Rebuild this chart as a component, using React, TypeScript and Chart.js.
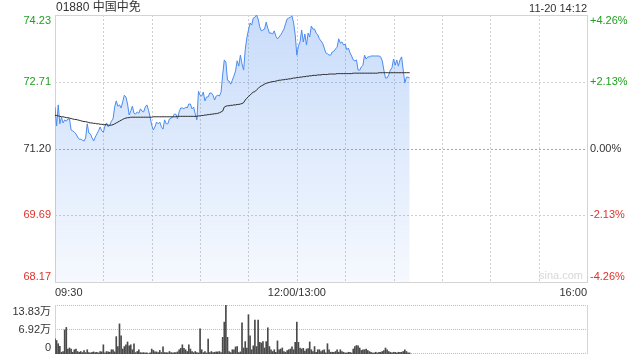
import React, { useEffect, useRef } from 'react';
import { Chart, registerables } from 'chart.js';

Chart.register(...registerables);

const FONT = '"Liberation Sans", Arial, "Noto Sans CJK SC", sans-serif';
const GREEN = '#1f9f1f';
const RED = '#e0302b';
const DARK = '#333333';

const TITLE = '01880 中国中免';
const STAMP = '11-20 14:12';

const PRICE_MIN = 68.17;
const PRICE_MAX = 74.23;
const PRICE_TICK_VALUES = [74.23, 72.71, 71.2, 69.69, 68.17];
const PRICE_TICK_LABELS = ['74.23', '72.71', '71.20', '69.69', '68.17'];
const PCT_TICK_LABELS = ['+4.26%', '+2.13%', '0.00%', '-2.13%', '-4.26%'];
const TICK_COLORS = [GREEN, GREEN, DARK, RED, RED];

const TOTAL_MINUTES = 330;
const GRID_MINUTES = [30, 60, 90, 120, 150, 180, 210, 240, 270, 300];
const TIME_LABELS = ['09:30', '12:00/13:00', '16:00'];
const TIME_POSITIONS = [0, 150, 330];

const VOL_MAX = 13.83;
const VOL_TICK_VALUES = [13.83, 6.92, 0];
const VOL_TICK_LABELS = ['13.83万', '6.92万', '0'];

// minute-by-minute price (09:30 ...)
const PRICE = [
  72.14, 71.71, 72.19, 71.76, 71.91, 71.78, 71.85, 71.82, 71.87, 71.87,
  71.62, 71.6, 71.57, 71.53, 71.46, 71.41, 71.41, 71.39, 71.37, 71.44,
  71.76, 71.55, 71.53, 71.44, 71.37, 71.46, 71.53, 71.6, 71.69, 71.6,
  71.57, 71.71, 71.78, 71.69, 71.73, 71.82, 71.87, 72.14, 72.28, 72.16,
  72.19, 72.12, 72.26, 72.41, 72.37, 72.21, 71.96, 72.05, 72.16, 72.0,
  71.98, 72.03, 72.0, 72.1, 72.05, 72.03, 72.14, 72.19, 72.07, 71.91,
  71.73, 71.62, 71.69, 71.8, 71.76, 71.8, 71.69, 71.64, 71.85, 71.76,
  71.76, 71.87, 71.89, 71.91, 71.98, 71.98, 71.87, 72.03, 72.12, 72.12,
  72.1, 72.14, 72.12, 72.21, 72.21, 72.1, 72.14, 71.98, 71.85, 72.5,
  72.41, 72.39, 72.48, 72.28, 72.37, 72.37, 72.46, 72.46, 72.41, 72.3,
  72.39, 72.41, 72.39, 72.48, 72.87, 73.21, 73.16, 72.75, 72.73, 72.66,
  72.75, 72.85, 72.96, 73.19, 73.07, 73.32, 73.12, 72.98, 73.44, 73.71,
  73.89, 74.05, 74.0, 74.16, 74.18, 74.23, 74.14, 73.96, 73.87, 73.89,
  73.91, 74.07, 73.93, 73.82, 73.82, 73.8, 73.87, 73.75, 73.69, 73.73,
  73.78, 73.84, 73.91, 74.03, 74.14, 74.16, 74.18, 74.21, 74.05, 73.78,
  73.32, 73.53, 73.62, 73.89, 73.62, 73.8, 73.55, 73.82, 73.73, 73.98,
  73.91, 73.91, 73.82, 73.78, 73.69, 73.64, 73.59, 73.48, 73.37, 73.35,
  73.32, 73.32, 73.39, 73.41, 73.46, 73.5, 73.69, 73.59, 73.62, 73.55,
  73.57, 73.44, 73.48, 73.37, 73.3, 73.21, 73.19, 73.21, 72.98, 72.98,
  73.05, 73.09, 73.32, 73.23, 73.28, 73.28, 73.3, 73.3, 73.3, 73.3,
  73.3, 73.3, 73.28, 73.19, 72.98, 72.8, 72.8, 72.87, 72.98, 73.03,
  73.23, 73.09, 73.21, 73.07, 73.21, 73.28, 72.98, 72.69, 72.82, 72.82,
  72.8,
];

// average price line
const AVG = [
  71.95, 71.95, 71.94, 71.93, 71.92, 71.92, 71.91, 71.9, 71.9, 71.89,
  71.88, 71.87, 71.86, 71.86, 71.85, 71.84, 71.83, 71.82, 71.81, 71.81,
  71.8, 71.79, 71.78, 71.78, 71.77, 71.77, 71.76, 71.76, 71.75, 71.75,
  71.74, 71.74, 71.74, 71.73, 71.73, 71.73, 71.74, 71.76, 71.78, 71.8,
  71.82, 71.84, 71.86, 71.88, 71.89, 71.9, 71.9, 71.91, 71.91, 71.91,
  71.91, 71.91, 71.91, 71.91, 71.91, 71.91, 71.91, 71.91, 71.91, 71.91,
  71.91, 71.92, 71.92, 71.92, 71.92, 71.92, 71.92, 71.92, 71.92, 71.92,
  71.92, 71.92, 71.92, 71.92, 71.92, 71.92, 71.93, 71.93, 71.93, 71.93,
  71.93, 71.93, 71.93, 71.93, 71.93, 71.93, 71.93, 71.93, 71.93, 71.94,
  71.94, 71.95, 71.95, 71.96, 71.96, 71.97, 71.97, 71.98, 71.98, 71.99,
  71.99, 72.0, 72.01, 72.03, 72.05, 72.14, 72.16, 72.17, 72.17, 72.18,
  72.18, 72.19, 72.19, 72.2, 72.2, 72.21, 72.22, 72.24, 72.3, 72.34,
  72.38, 72.41, 72.45, 72.48, 72.49, 72.53, 72.56, 72.6, 72.62, 72.64,
  72.66, 72.68, 72.69, 72.7, 72.71, 72.72, 72.72, 72.73, 72.74, 72.75,
  72.75, 72.76, 72.76, 72.77, 72.77, 72.78, 72.78, 72.79, 72.8, 72.8,
  72.81, 72.81, 72.82, 72.82, 72.83, 72.83, 72.84, 72.84, 72.85, 72.85,
  72.86, 72.86, 72.86, 72.87, 72.87, 72.87, 72.88, 72.88, 72.88, 72.88,
  72.89, 72.89, 72.89, 72.89, 72.89, 72.9, 72.9, 72.9, 72.9, 72.9,
  72.9, 72.9, 72.9, 72.9, 72.9, 72.91, 72.91, 72.91, 72.91, 72.91,
  72.91, 72.91, 72.91, 72.91, 72.91, 72.91, 72.91, 72.91, 72.91, 72.91,
  72.91, 72.92, 72.92, 72.92, 72.92, 72.92, 72.92, 72.92, 72.92, 72.92,
  72.92, 72.92, 72.92, 72.92, 72.92, 72.92, 72.92, 72.92, 72.92, 72.92,
  72.92,
];

// volume per minute, in 万 shares
const VOLUME = [
  4.3, 3.8, 2.9, 2.2, 0.5, 0.7, 6.8, 7.5, 1.4, 1.7,
  1.4, 0.5, 1.2, 1.4, 0.7, 0.5, 0.7, 0.4, 1.0, 0.4,
  1.2, 0.4, 0.3, 0.5, 0.6, 0.4, 0.5, 0.3, 0.7, 0.6,
  2.6, 0.3, 0.7, 0.6, 0.5, 1.2, 1.2, 0.6, 4.9, 2.1,
  8.5, 5.1, 1.4, 2.1, 2.6, 3.4, 2.3, 2.6, 1.2, 2.9,
  0.4, 0.7, 1.2, 0.4, 0.3, 0.4, 0.3, 0.3, 0.1, 0.3,
  1.4, 1.0, 0.6, 0.6, 0.4, 1.0, 0.4, 2.0, 0.4, 0.4,
  0.3, 0.7, 0.4, 0.3, 0.4, 0.4, 0.6, 1.2, 1.6, 2.6,
  1.6, 1.2, 0.7, 2.6, 1.4, 0.7, 0.4, 0.7, 0.4, 0.3,
  7.1, 1.2, 0.4, 0.7, 0.3, 4.2, 0.4, 0.7, 0.4, 0.5,
  0.6, 0.6, 0.7, 0.4, 4.7, 9.0, 13.83, 4.7, 0.7, 0.4,
  1.2, 1.2, 2.0, 2.1, 0.4, 0.6, 8.8, 1.7, 3.5, 1.7,
  11.1, 5.1, 1.2, 2.3, 9.6, 2.1, 9.6, 3.3, 3.1, 3.5,
  1.7, 3.5, 7.4, 2.1, 1.2, 0.7, 1.2, 0.5, 3.7, 1.2,
  1.4, 1.7, 0.7, 0.5, 1.0, 1.2, 1.4, 2.0, 1.2, 3.3,
  9.0, 3.3, 1.7, 1.4, 1.6, 0.8, 1.4, 1.5, 3.4, 1.2,
  0.7, 2.1, 0.5, 1.2, 1.2, 0.7, 1.0, 1.2, 0.3, 2.9,
  1.2, 0.5, 0.5, 0.5, 0.7, 1.2, 0.5, 1.2, 0.7, 0.5,
  0.3, 0.3, 0.5, 0.5, 0.3, 1.4, 2.1, 2.4, 2.3, 1.7,
  1.0, 1.2, 1.2, 1.4, 1.0, 0.7, 0.5, 0.3, 0.3, 0.5,
  0.3, 0.5, 0.5, 0.7, 1.0, 1.7, 1.2, 0.7, 0.5, 0.3,
  0.5, 0.5, 0.3, 0.5, 0.5, 0.5, 0.7, 1.2, 0.7, 0.3,
  0.3,
];

function hLine(ctx: CanvasRenderingContext2D, x1: number, x2: number, y: number) {
  const yy = Math.round(y) + 0.5;
  ctx.beginPath();
  ctx.moveTo(x1, yy);
  ctx.lineTo(x2, yy);
  ctx.stroke();
}
function vLine(ctx: CanvasRenderingContext2D, x: number, y1: number, y2: number) {
  const xx = Math.round(x) + 0.5;
  ctx.beginPath();
  ctx.moveTo(xx, y1);
  ctx.lineTo(xx, y2);
  ctx.stroke();
}

const mainDecor = {
  id: 'mainDecor',
  beforeDatasetsDraw(chart: any) {
    const { ctx, chartArea: a, scales } = chart;
    const x = scales.x;
    const y = scales.y;
    ctx.save();
    ctx.lineWidth = 1;
    ctx.setLineDash([2, 2]);
    ctx.strokeStyle = '#cfcfcf';
    GRID_MINUTES.forEach((m) => vLine(ctx, x.getPixelForValue(m), a.top, a.bottom));
    PRICE_TICK_VALUES.forEach((v, i) => {
      if (i === 0 || i === PRICE_TICK_VALUES.length - 1) return;
      ctx.strokeStyle = i === 2 ? '#a8a8a8' : '#cfcfcf';
      hLine(ctx, a.left, a.right, y.getPixelForValue(v));
    });
    ctx.setLineDash([]);
    ctx.strokeStyle = '#d4d4d4';
    ctx.strokeRect(Math.round(a.left) + 0.5, Math.round(a.top) + 0.5, Math.round(a.right - a.left), Math.round(a.bottom - a.top));
    ctx.restore();
  },
  afterDraw(chart: any) {
    const { ctx, chartArea: a, scales } = chart;
    const x = scales.x;
    const y = scales.y;
    ctx.save();
    // header
    ctx.fillStyle = DARK;
    ctx.font = `12px ${FONT}`;
    ctx.textAlign = 'left';
    ctx.textBaseline = 'middle';
    ctx.fillText(TITLE, a.left + 1, 8);
    ctx.font = `11px ${FONT}`;
    ctx.textAlign = 'right';
    ctx.fillText(STAMP, a.right, 9);
    // price / pct labels
    ctx.font = `11px ${FONT}`;
    PRICE_TICK_VALUES.forEach((v, i) => {
      let py = y.getPixelForValue(v);
      let base: CanvasTextBaseline = 'middle';
      if (i === 0) { base = 'top'; py += 0; }
      if (i === PRICE_TICK_VALUES.length - 1) { base = 'bottom'; }
      ctx.textBaseline = base;
      ctx.fillStyle = TICK_COLORS[i];
      ctx.textAlign = 'right';
      ctx.fillText(PRICE_TICK_LABELS[i], a.left - 4, py);
      ctx.textAlign = 'left';
      ctx.fillText(PCT_TICK_LABELS[i], a.right + 3, py);
    });
    // time labels
    ctx.fillStyle = DARK;
    ctx.textBaseline = 'middle';
    TIME_LABELS.forEach((t, i) => {
      const px = x.getPixelForValue(TIME_POSITIONS[i]);
      ctx.textAlign = i === 0 ? 'left' : i === TIME_LABELS.length - 1 ? 'right' : 'center';
      ctx.fillText(t, px, a.bottom + 11);
    });
    // watermark
    ctx.fillStyle = '#d8d8d8';
    ctx.textAlign = 'right';
    ctx.textBaseline = 'bottom';
    ctx.fillText('sina.com', a.right - 4, a.bottom - 1);
    ctx.restore();
  },
};

const volDecor = {
  id: 'volDecor',
  beforeDatasetsDraw(chart: any) {
    const { ctx, chartArea: a, scales } = chart;
    const y = scales.y;
    ctx.save();
    ctx.lineWidth = 1;
    ctx.setLineDash([1, 1]);
    ctx.strokeStyle = '#bdbdbd';
    VOL_TICK_VALUES.forEach((v) => hLine(ctx, a.left, a.right, Math.min(y.getPixelForValue(v), a.bottom - 1)));
    ctx.setLineDash([]);
    ctx.strokeStyle = '#d4d4d4';
    vLine(ctx, a.left, a.top, a.bottom);
    vLine(ctx, a.right, a.top, a.bottom);
    ctx.restore();
  },
  afterDraw(chart: any) {
    const { ctx, chartArea: a, scales } = chart;
    const y = scales.y;
    ctx.save();
    ctx.fillStyle = DARK;
    ctx.font = `11px ${FONT}`;
    ctx.textAlign = 'right';
    VOL_TICK_VALUES.forEach((v, i) => {
      const py = y.getPixelForValue(v);
      ctx.textBaseline = i === 0 ? 'top' : i === VOL_TICK_VALUES.length - 1 ? 'bottom' : 'middle';
      ctx.fillText(VOL_TICK_LABELS[i], a.left - 4, i === 0 ? py + 1 : i === 2 ? py - 1 : py);
    });
    ctx.restore();
  },
};

export default function App() {
  const mainRef = useRef<HTMLCanvasElement>(null);
  const volRef = useRef<HTMLCanvasElement>(null);

  useEffect(() => {
    const priceData = PRICE.map((v, i) => ({ x: i, y: v }));
    const avgData = AVG.map((v, i) => ({ x: i, y: v }));
    const volData = VOLUME.map((v, i) => ({ x: i, y: v }));

    const main = new Chart(mainRef.current!, {
      type: 'line',
      data: {
        datasets: [
          {
            label: 'avg',
            data: avgData,
            borderColor: '#2a2a2a',
            borderWidth: 1,
            pointRadius: 0,
            fill: false,
            order: 0,
          },
          {
            label: 'price',
            data: priceData,
            borderColor: '#4a8bf0',
            borderWidth: 1,
            pointRadius: 0,
            fill: 'start',
            order: 1,
            backgroundColor: (context: any) => {
              const { ctx, chartArea } = context.chart;
              if (!chartArea) return 'rgba(74,139,240,0.2)';
              const g = ctx.createLinearGradient(0, chartArea.top, 0, chartArea.bottom);
              g.addColorStop(0, 'rgba(74,139,240,0.30)');
              g.addColorStop(1, 'rgba(74,139,240,0.05)');
              return g;
            },
          },
        ],
      },
      options: {
        animation: false,
        responsive: false,
        events: [],
        layout: { padding: { left: 55, right: 53, top: 15, bottom: 18 } },
        scales: {
          x: { type: 'linear', min: 0, max: TOTAL_MINUTES, display: false },
          y: { type: 'linear', min: PRICE_MIN, max: PRICE_MAX, display: false },
        },
        plugins: { legend: { display: false }, tooltip: { enabled: false } },
      },
      plugins: [mainDecor],
    } as any);

    const vol = new Chart(volRef.current!, {
      type: 'bar',
      data: {
        datasets: [
          {
            label: 'volume',
            data: volData,
            backgroundColor: '#4a4a4a',
            barThickness: 1,
          },
        ],
      },
      options: {
        animation: false,
        responsive: false,
        events: [],
        layout: { padding: { left: 55, right: 53, top: 5, bottom: 6 } },
        scales: {
          x: { type: 'linear', min: 0, max: TOTAL_MINUTES, display: false, offset: false },
          y: { type: 'linear', min: 0, max: VOL_MAX, display: false },
        },
        plugins: { legend: { display: false }, tooltip: { enabled: false } },
      },
      plugins: [volDecor],
    } as any);

    return () => {
      main.destroy();
      vol.destroy();
    };
  }, []);

  return (
    <div style={{ position: 'absolute', left: 0, top: 0, width: 640, height: 360, background: '#fff' }}>
      <canvas ref={mainRef} width={640} height={300} style={{ position: 'absolute', left: 0, top: 0, width: 640, height: 300 }} />
      <canvas ref={volRef} width={640} height={60} style={{ position: 'absolute', left: 0, top: 300, width: 640, height: 60 }} />
    </div>
  );
}
